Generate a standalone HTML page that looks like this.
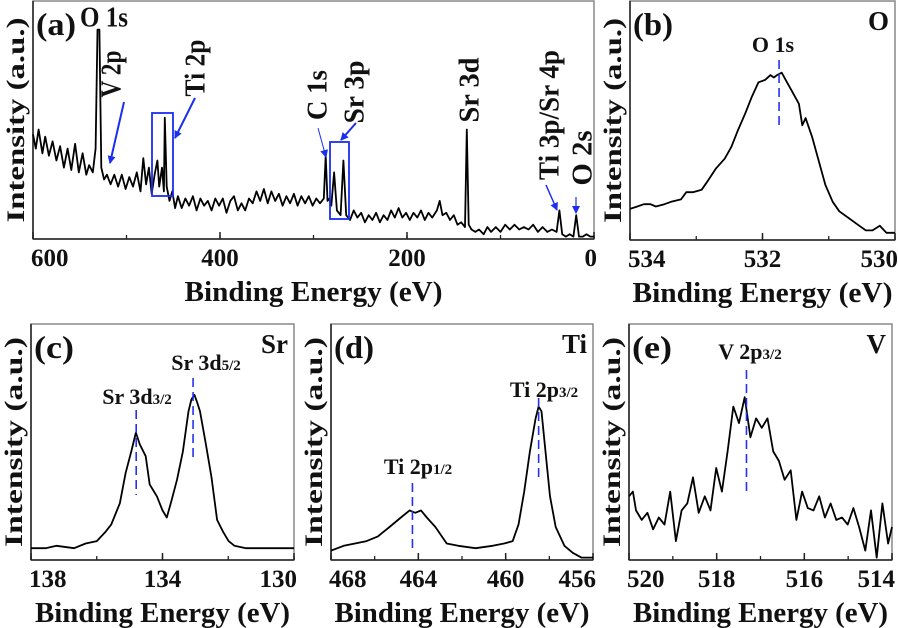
<!DOCTYPE html>
<html><head><meta charset="utf-8"><style>
html,body{margin:0;padding:0;background:#fff;width:898px;height:628px;overflow:hidden}
svg{display:block}
text{font-family:"Liberation Serif",serif;font-weight:bold;fill:#111}
</style></head><body>
<svg id="fig" width="898" height="628" viewBox="0 0 898 628" xmlns="http://www.w3.org/2000/svg"></svg>
<script>
// Panel (a) survey
const aBE=[600,597,594,590,587,583,579,575,571,567,563,559,555,551,547,543,540,536,533,531,529,527,524,521,517,513,509,505,501,497,493,489,485,482,479,476,473,470,467,465,462,460,459,457,454,451,448,445,441,437,433,429,425,421,417,413,409,405,401,397,393,389,385,381,377,373,369,365,361,357,353,349,345,341,337,333,329,325,321,317,313,309,305,301,297,293,289,287,285,283,281,278,275,271,268,265,261,257,253,249,245,241,237,233,229,225,221,217,213,209,205,201,197,193,189,185,181,177,173,168,165,162,158,154,150,146,142,138,136,134,131,127,123,118,114,110,105,100,95,90,85,80,75,70,65,60,55,50,45,40,37,34,30,26,22,19,16,12,8,4,0];
const aInt=[44,38,46,36,43,35,41,33,39,30,38,29,40,28,36,27,31,28,38,88,88,30,25,27,23,27,22,27,21,26,22,28,20,34,23,30,19,27,33,22,30,20,51,22,16,20,13,18,13,17,14,18,12,17,14,16,12,17,14,17,11,16,18,12,15,12,17,15,20,16,21,15,20,16,19,14,18,15,19,14,18,15,18,14,17,15,17,35,16,17,14,28,12,10,33,10,8,12,9,11,7,10,8,11,7,10,8,12,9,13,9,11,8,11,9,12,8,11,9,12,16,10,11,8,10,6,7,5,46,6,4,3,4,2,5,3,5,3,6,4,6,4,5,4,6,3,5,3,4,3,12,2,1,2,1,10,1,1,2,1,1];
const aTicks=[600,400,200,0];
// Panel (b) O 1s
const bBE=[534.00,533.89,533.79,533.69,533.61,533.48,533.38,533.23,533.15,533.05,532.92,532.82,532.70,532.57,532.47,532.37,532.26,532.16,532.06,531.96,531.88,531.83,531.78,531.71,531.63,531.55,531.45,531.40,531.35,531.25,531.15,531.05,530.94,530.84,530.69,530.54,530.44,530.34,530.23,530.13,530.00];
const bInt=[13,14,15,15,14,15,16,17,20,20,21,25,30,34,39,46,53,60,66,67,69,68,69,70,66,62,57,48,51,43,33,23,16,12,9,6,4,4,6,3,3];
const bTicks=[534,532,530];
// Panel (c) Sr 3d
const cBE=[138,137.56,137.22,136.69,136.34,136.0,135.73,135.56,135.30,135.12,134.95,134.81,134.69,134.51,134.39,134.17,134.0,133.87,133.73,133.56,133.38,133.21,133.12,133.03,132.95,132.86,132.68,132.51,132.34,132.16,131.99,131.81,131.46,130.94,130.59,130.0];
const cInt=[5,5,6,5,7,8,12,15,24,37,46,54,49,44,32,27,21,18,25,34,46,63,68,70,67,63,49,35,17,12,8,6,5,5,5,5];
const cTicks=[138,134,130];
// Panel (d) Ti 2p
const dBE=[468,467.42,466.90,466.37,465.85,465.32,464.80,464.40,464.14,463.88,463.61,463.22,462.70,462.17,461.38,460.60,460.07,459.68,459.41,459.15,458.89,458.63,458.49,458.36,458.23,457.97,457.71,457.31,456.92,456.53,456.0];
const dInt=[4,6,7,8,10,14,18,21,20,21,18,14,7,6,5,6,7,8,15,29,46,60,65,63,51,27,14,6,3,1,1];
const dTicks=[468,464,460,456];
// Panel (e) V 2p
const eBE=[520,519.91,519.84,519.71,519.58,519.45,519.32,519.19,519.06,518.93,518.80,518.67,518.54,518.41,518.27,518.14,518.01,517.88,517.75,517.62,517.49,517.36,517.23,517.10,516.97,516.84,516.71,516.58,516.45,516.31,516.18,516.05,515.92,515.79,515.66,515.53,515.40,515.27,515.14,515.01,514.88,514.75,514.61,514.48,514.35,514.22,514.09,514.0];
const eInt=[27,29,21,17,20,13,18,15,29,8,21,24,35,20,27,21,39,29,46,65,58,69,52,60,56,60,46,42,34,38,17,29,22,21,27,18,24,17,18,15,22,14,4,21,1,24,7,14];
const eTicks=[520,518,516,514];

const NS="http://www.w3.org/2000/svg";
const svg=document.getElementById('fig');
function el(tag,attrs,parent,txt){const e=document.createElementNS(NS,tag);for(const k in attrs)e.setAttribute(k,attrs[k]);if(txt!==undefined)e.textContent=txt;(parent||svg).appendChild(e);return e;}

function panel(p){
  const g=el('g',{});
  
  
  const sx=v=>p.x0+(p.b0-v)/(p.b0-p.b1)*(p.x1-p.x0);
  const sy=v=>p.y1-v/100*(p.y1-p.y0);
  const fr=el('rect',{x:p.x0,y:p.y0,width:p.x1-p.x0,height:p.y1-p.y0,fill:'none',stroke:'#888','stroke-width':1.5},g);
  
  
  el('line',{x1:p.x0,y1:p.y1,x2:p.x1,y2:p.y1,stroke:'#222','stroke-width':1.5},g);
  el('line',{x1:p.x0,y1:p.y0,x2:p.x0,y2:p.y1,stroke:'#222','stroke-width':1.5},g);
  const step=(p.b0-p.b1)/p.nminor;
  for(let i=0;i<=p.nminor;i++){const v=p.b0-i*step;const x=sx(v);el('line',{x1:x,y1:p.y1,x2:x,y2:p.y1-4,stroke:'#222','stroke-width':1.3},g);}
  p.ticks.forEach((t,i)=>{
    const x=sx(t);
    el('line',{x1:x,y1:p.y1,x2:x,y2:p.y1-7,stroke:'#222','stroke-width':1.5},g);
    const s=String(t);
    let anchor='middle',tx=x;
    if(i===0){anchor='start';tx=x-2;}
    else if(i===p.ticks.length-1){anchor='end';tx=x+3;}
    const tl=el('text',{x:tx,y:p.y1+27,'font-size':25,'text-anchor':anchor,textLength:s.length*12.5,lengthAdjust:'spacingAndGlyphs'},g,s);
    
    
  });
  const xt=el('text',{x:(p.x0+p.x1)/2,y:p.y1+62,'font-size':28,'text-anchor':'middle',textLength:p.tw||255,lengthAdjust:'spacingAndGlyphs'},g,'Binding Energy (eV)');
  
  
  const cy=(p.y0+p.y1)/2;
  const yx=p.x0-9;
  const yt=el('text',{x:yx,y:cy,'font-size':25,'text-anchor':'middle',textLength:p.yw||210,lengthAdjust:'spacingAndGlyphs',transform:`rotate(-90 ${yx} ${cy})`},g,'Intensity (a.u.)');
  
  
  let d='';
  p.be.forEach((b,i)=>{d+=(i?'L':'M')+sx(b).toFixed(1)+' '+sy(p.it[i]).toFixed(1);});
  const ln=el('path',{d:d,fill:'none',stroke:'#000','stroke-width':1.8,'stroke-linejoin':'round'},g);
  
  
  const pl=el('text',{x:p.x0+3,y:p.y0+34,'font-size':32,textLength:40,lengthAdjust:'spacingAndGlyphs'},g,'('+p.id+')');
  
  
  if(p.el){const e=el('text',{x:p.x1-6,y:p.y0+29,'font-size':27,'text-anchor':'end'},g,p.el);
    
    }
  (p.dash||[]).forEach(dd=>{
    const x=sx(dd.v);
    const l=el('line',{x1:x,y1:dd.ya,x2:x,y2:dd.yb,stroke:'#2233ee','stroke-width':1.6,'stroke-dasharray':'9 5'},g);
    
    
  });
  (p.labels||[]).forEach(L=>{
    const t=el('text',{x:L.x,y:L.y,'font-size':22,'text-anchor':'middle'},g);
    
    
    t.appendChild(document.createTextNode(L.a));
    if(L.s){el('tspan',{'font-size':15},t,L.s);}
  });
  return {g,sx,sy};
}

const A=panel({id:'a',x0:33,x1:594,y0:1,y1:239,b0:600,b1:0,nminor:6,ticks:aTicks,be:aBE,it:aInt,tw:258,yw:205});
const B=panel({id:'b',x0:630,x1:895,y0:1,y1:240,b0:534,b1:530,nminor:4,ticks:bTicks,be:bBE,it:bInt,el:'O',tw:260,yw:205,
  dash:[{v:531.75,ya:60,yb:130}],labels:[{x:773,y:52,a:'O 1s'}]});
const C=panel({id:'c',x0:31,x1:294,y0:324,y1:560,b0:138,b1:130,nminor:4,ticks:cTicks,be:cBE,it:cInt,el:'Sr',
  dash:[{v:134.8,ya:410,yb:495},{v:133.07,ya:378,yb:460}],
  labels:[{x:137,y:404,a:'Sr 3d',s:'3/2'},{x:206,y:370,a:'Sr 3d',s:'5/2'}]});
const D=panel({id:'d',x0:331,x1:593,y0:324,y1:560,b0:468,b1:456,nminor:6,ticks:dTicks,be:dBE,it:dInt,el:'Ti',
  dash:[{v:464.27,ya:483,yb:553},{v:458.49,ya:398,yb:478}],
  labels:[{x:418,y:474,a:'Ti 2p',s:'1/2'},{x:544,y:397,a:'Ti 2p',s:'3/2'}]});
const E=panel({id:'e',x0:629,x1:892,y0:324,y1:560,b0:520,b1:514,nminor:6,ticks:eTicks,be:eBE,it:eInt,el:'V',
  dash:[{v:517.32,ya:370,yb:492}],labels:[{x:750,y:359,a:'V 2p',s:'3/2'}]});

// Survey annotations: text, cx, cy, rotation, length
const ann=[['O 1s',104,18,0,48],['V 2p',112,74,-90,47],['Ti 2p',196,68,-90,57],['C 1s',318,95,-90,50],['Sr 3p',355,92,-90,63],['Sr 3d',470,90,-90,65],['Ti 3p/Sr 4p',550,115,-90,130],['O 2s',583,158,-90,55]];
ann.forEach(a=>{
  const t=el('text',{x:a[1],y:a[2],'font-size':28,'text-anchor':'middle','dominant-baseline':'central',textLength:a[4],lengthAdjust:'spacingAndGlyphs',transform:`rotate(${a[3]} ${a[1]} ${a[2]})`},A.g,a[0]);
  
  
});
const boxes=[[152,113,21,83],[330,142,19,77]];
boxes.forEach(b=>{
  const r=el('rect',{x:b[0],y:b[1],width:b[2],height:b[3],fill:'none',stroke:'#1a2ef0','stroke-width':1.8},A.g);
  
  
});
const defs=el('defs',{});
const mk=el('marker',{id:'ah',markerWidth:8,markerHeight:8,refX:7,refY:4,orient:'auto',markerUnits:'userSpaceOnUse'},defs);
el('path',{d:'M0 0L8 4L0 8z',fill:'#1a2ef0'},mk);
const arrows=[[124,102,110,163,2],[195,98,175,138,2],[318,128,326,157,1],[356,123,341,140,2],[546,185,557,210,1.5],[576,197,576,213,1.2]];
arrows.forEach(a=>{
  const l=el('line',{x1:a[0],y1:a[1],x2:a[2],y2:a[3],stroke:'#1a2ef0','stroke-width':a[4],'marker-end':'url(#ah)'},A.g);
  
  
});
</script>
</body></html>
